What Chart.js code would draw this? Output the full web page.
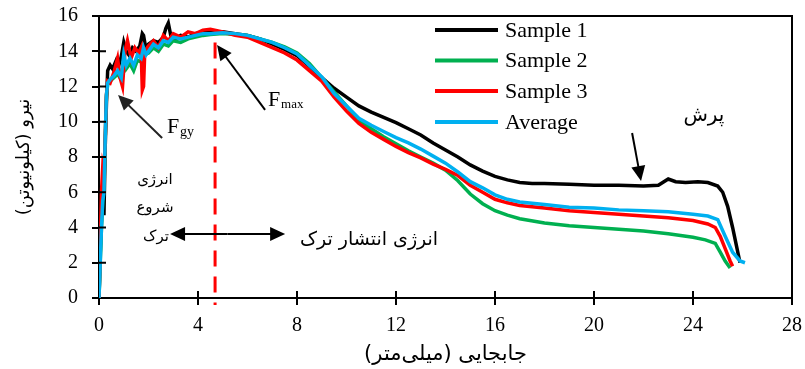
<!DOCTYPE html>
<html><head><meta charset="utf-8">
<script src="https://cdn.jsdelivr.net/npm/chart.js@4.4.1/dist/chart.umd.min.js"></script>
<style>html,body{margin:0;padding:0;background:#fff}#wrap{width:805px;height:369px;position:relative}</style>
</head><body><div id="wrap"><canvas id="c" dir="rtl"></canvas></div>
<script>
// ---- data (displacement mm, force kN) ----
const seriesNames = ['Sample 1','Sample 2','Sample 3','Average'];
const sample1X = [0,0.05,0.1,0.15,0.2,0.25,0.3,0.35,0.45,0.55,0.7,0.8,0.9,1.0,1.1,1.2,1.35,1.5,1.65,1.75,1.8,1.9,2.0,2.2,2.4,2.6,2.7,2.8,2.9,3.1,3.3,3.6,3.9,4.2,4.5,5.0,5.5,6.0,6.5,7.0,7.5,8.0,8.5,9.0,9.5,10.0,10.5,11.0,11.5,12.0,12.5,13.0,13.5,14.0,14.5,15.0,15.5,16.0,16.5,17.0,17.5,18,19,20,21,22,22.6,23.0,23.3,23.7,24.2,24.6,25.0,25.2,25.4,25.6,25.75,25.9];
const sample1Y = [0,2.5,4.5,6.5,4.7,8.5,11,12.9,13.2,13.0,13.5,13.2,13.7,14.5,14.0,13.8,14.2,14.0,14.3,15.0,14.9,14.1,14.4,14.6,14.5,14.8,15.3,15.6,14.9,14.7,14.9,14.8,15.0,15.1,15.1,15.1,15.0,14.9,14.7,14.4,14.1,13.75,13.15,12.5,11.9,11.4,10.9,10.55,10.25,9.95,9.6,9.25,8.8,8.4,8.0,7.55,7.2,6.9,6.7,6.55,6.5,6.5,6.45,6.4,6.4,6.35,6.4,6.75,6.6,6.55,6.6,6.55,6.35,6.0,5.2,4.0,3.0,2.0];
const sample2X = [0,0.05,0.1,0.15,0.2,0.25,0.3,0.35,0.45,0.6,0.75,0.9,1.0,1.1,1.25,1.4,1.55,1.7,1.85,2.0,2.2,2.4,2.6,2.8,3.0,3.3,3.6,3.9,4.2,4.5,5.0,5.5,6.0,6.5,7.0,7.5,8.0,8.5,9.0,9.5,10,10.5,11,11.5,12,12.5,13,13.5,14,14.5,15,15.5,16,16.5,17,18,19,20,21,22,23,23.5,24,24.5,24.9,25.1,25.3,25.5];
const sample2Y = [0,2,4,5.5,6.2,9,11.5,12.1,12.3,12.5,12.7,12.4,13.6,13.0,13.3,12.9,13.5,13.4,13.8,13.9,14.2,14.0,14.4,14.3,14.6,14.5,14.7,14.8,14.9,14.95,15.0,14.95,14.9,14.7,14.5,14.25,13.9,13.3,12.5,11.7,10.9,10.1,9.6,9.15,8.75,8.35,8.0,7.65,7.25,6.65,5.9,5.35,4.95,4.7,4.5,4.25,4.1,4.0,3.9,3.8,3.65,3.55,3.45,3.3,3.1,2.6,2.1,1.7];
const sample3X = [0,0.05,0.1,0.15,0.2,0.25,0.3,0.35,0.45,0.6,0.75,0.85,0.95,1.05,1.15,1.3,1.45,1.6,1.7,1.75,1.8,1.85,2.0,2.2,2.4,2.6,2.8,3.0,3.3,3.6,3.9,4.2,4.5,5.0,5.5,6.0,6.5,7.0,7.5,8.0,8.5,9.0,9.5,10,10.5,11,11.5,12,12.5,13,13.5,14,14.5,15,15.5,16,16.5,17,18,19,20,21,22,23,24,24.6,24.9,25.1,25.3,25.5,25.6];
const sample3Y = [0,3,6,7.4,7.0,9,11.5,12.3,12.2,12.8,13.6,12.5,12.0,14.0,14.6,13.6,14.2,13.9,14.2,11.8,12.0,14.0,14.3,14.6,14.2,14.9,14.6,15.0,14.8,15.1,15.0,15.2,15.25,15.1,14.9,14.8,14.5,14.2,13.9,13.5,12.9,12.3,11.4,10.6,9.9,9.4,9.0,8.6,8.25,7.95,7.6,7.3,6.95,6.4,6.0,5.6,5.4,5.25,5.1,4.95,4.85,4.75,4.65,4.55,4.4,4.2,4.0,3.5,2.8,2.1,1.8];
const averageX = [0,0.05,0.1,0.15,0.2,0.25,0.3,0.35,0.45,0.6,0.75,0.9,1.0,1.1,1.25,1.4,1.55,1.7,1.8,1.9,2.0,2.2,2.4,2.6,2.8,3.0,3.3,3.6,3.9,4.2,4.5,5.0,5.5,6.0,6.5,7.0,7.5,8.0,8.5,9.0,9.5,10,10.5,11,11.5,12,12.5,13,13.5,14,14.5,15,15.5,16,16.5,17,18,19,20,21,22,23,24,24.6,25.0,25.3,25.6,25.9,26.1];
const averageY = [0,2,4,5.5,6.0,9,11.5,12.2,12.4,12.6,12.9,12.5,13.8,13.2,13.6,13.2,13.8,13.6,14.2,13.8,14.0,14.4,14.2,14.6,14.5,14.8,14.7,14.8,14.9,15.0,15.0,15.05,15.0,14.9,14.7,14.5,14.2,13.85,13.2,12.55,11.6,10.9,10.2,9.8,9.45,9.1,8.8,8.45,8.05,7.65,7.15,6.6,6.25,5.85,5.6,5.45,5.3,5.15,5.1,5.0,4.95,4.9,4.75,4.65,4.45,3.5,2.6,2.1,2.0];
const xTicks = [0,4,8,12,16,20,24,28];
const yTicks = [0,2,4,6,8,10,12,14,16];
const fmaxX = 4.69; // displacement at maximum force

const colors = ['#000000','#00B050','#FF0000','#00B0F0'];
const pts = (xs, ys) => xs.map((v, i) => ({x: v, y: ys[i]}));
const serif = "'Liberation Serif', 'Times New Roman', serif";
const arab = "'DejaVu Sans', sans-serif";

function arrow(ctx, x1, y1, x2, y2, col, lw, L, W) {
  const ang = Math.atan2(y2 - y1, x2 - x1);
  ctx.strokeStyle = col; ctx.fillStyle = col; ctx.lineWidth = lw;
  ctx.beginPath(); ctx.moveTo(x1, y1);
  ctx.lineTo(x2 - Math.cos(ang) * L * 0.8, y2 - Math.sin(ang) * L * 0.8); ctx.stroke();
  ctx.beginPath(); ctx.moveTo(x2, y2);
  ctx.lineTo(x2 - L * Math.cos(ang) + W * Math.sin(ang), y2 - L * Math.sin(ang) - W * Math.cos(ang));
  ctx.lineTo(x2 - L * Math.cos(ang) - W * Math.sin(ang), y2 - L * Math.sin(ang) + W * Math.cos(ang));
  ctx.closePath(); ctx.fill();
}

const annot = {
  id: 'annot',
  beforeDatasetsDraw(chart) {
    const {ctx, scales: {x, y}} = chart;
    ctx.save();
    ctx.strokeStyle = '#FF0000'; ctx.lineWidth = 3; ctx.setLineDash([16, 10]);
    ctx.beginPath(); ctx.moveTo(x.getPixelForValue(fmaxX), y.getPixelForValue(14.5));
    ctx.lineTo(x.getPixelForValue(fmaxX), y.getPixelForValue(-0.4)); ctx.stroke();
    ctx.restore();
  },
  afterDraw(chart) {
    const {ctx, chartArea: a, scales: {x, y}} = chart;
    const X = v => x.getPixelForValue(v), Y = v => y.getPixelForValue(v);
    ctx.save();
    // frame
    ctx.strokeStyle = '#000'; ctx.lineWidth = 2; ctx.setLineDash([]);
    ctx.beginPath(); ctx.moveTo(a.left, a.top); ctx.lineTo(a.right, a.top); ctx.lineTo(a.right, a.bottom); ctx.stroke();
    // inner tick marks
    ctx.beginPath();
    xTicks.forEach(t => { if (t > 0 && t < 28) { ctx.moveTo(X(t), a.bottom); ctx.lineTo(X(t), a.bottom - 7); } });
    yTicks.forEach(t => { if (t > 0) { ctx.moveTo(a.left, Y(t)); ctx.lineTo(a.left + 7, Y(t)); } });
    ctx.stroke();
    // legend
    const rows = [14, 44.5, 75, 106];
    ctx.direction = 'ltr';
    seriesNames.forEach((n, i) => {
      ctx.strokeStyle = colors[i]; ctx.lineWidth = 4;
      ctx.beginPath(); ctx.moveTo(a.right - 357, a.top + rows[i]); ctx.lineTo(a.right - 294, a.top + rows[i]); ctx.stroke();
      ctx.fillStyle = '#000'; ctx.font = '22px ' + serif; ctx.textAlign = 'left'; ctx.textBaseline = 'middle';
      ctx.fillText(n, a.right - 287, a.top + rows[i] + 1);
    });
    // arrows
    arrow(ctx, X(2.55), Y(9.08), X(0.77), Y(11.52), '#222', 2, 15, 7);
    arrow(ctx, X(6.71), Y(10.67), X(4.77), Y(14.35), '#000', 2, 15, 7);
    arrow(ctx, X(21.54), Y(9.36), X(21.9), Y(6.64), '#000', 2, 15, 7);
    const ym = Y(3.63), xl = X(2.87), xr = X(7.52), xmid = (xl + xr) / 2;
    arrow(ctx, xmid, ym, xl, ym, '#000', 2, 15, 7);
    arrow(ctx, xmid, ym, xr, ym, '#000', 2, 15, 7);
    // F labels
    ctx.fillStyle = '#000'; ctx.textAlign = 'left'; ctx.textBaseline = 'alphabetic';
    ctx.font = '22px ' + serif; ctx.fillText('F', X(2.75), Y(9.36));
    ctx.font = '14px ' + serif; ctx.fillText('gy', X(2.75) + 13, Y(9.36) + 3);
    ctx.font = '22px ' + serif; ctx.fillText('F', X(6.83), Y(10.9));
    ctx.font = '13px ' + serif; ctx.fillText('max', X(6.83) + 13, Y(10.9) + 2);
    // Persian labels
    ctx.direction = 'rtl'; ctx.textAlign = 'center'; ctx.textBaseline = 'middle';
    ctx.font = '15px ' + arab;
    ctx.fillText('انرژی', X(2.26), Y(6.7));
    ctx.fillText('شروع', X(2.26), Y(5.1));
    ctx.fillText('ترک', X(2.3), Y(3.46));
    ctx.font = '19px ' + arab; ctx.textAlign = 'left';
    ctx.fillText('انرژی انتشار ترک', X(8.12), Y(3.3));
    ctx.font = '20px ' + arab; ctx.textAlign = 'center';
    ctx.fillText('پرش', X(24.44), Y(10.33));
    ctx.restore();
  }
};

const ds = [
  {label: seriesNames[0], data: pts(sample1X, sample1Y), borderColor: colors[0], order: 3},
  {label: seriesNames[1], data: pts(sample2X, sample2Y), borderColor: colors[1], order: 2},
  {label: seriesNames[2], data: pts(sample3X, sample3Y), borderColor: colors[2], order: 1},
  {label: seriesNames[3], data: pts(averageX, averageY), borderColor: colors[3], order: 0}
].map(d => Object.assign(d, {borderWidth: 3.5, pointRadius: 0, tension: 0, fill: false}));

new Chart(document.getElementById('c'), {
  type: 'line',
  data: {datasets: ds},
  options: {
    responsive: true, maintainAspectRatio: false, animation: false,
    layout: {padding: {top: 16, right: 13, left: 0, bottom: 0}},
    plugins: {legend: {display: false}, tooltip: {enabled: false}},
    scales: {
      x: {
        type: 'linear', min: 0, max: 28,
        afterBuildTicks: s => { s.ticks = xTicks.map(v => ({value: v})); },
        afterFit: s => { s.height = 71; s.paddingLeft = 0; s.paddingRight = 0; },
        ticks: {color: '#000', font: {family: serif, size: 20}, padding: 9, maxRotation: 0},
        grid: {drawOnChartArea: false, color: '#000', lineWidth: 2, tickLength: 7},
        border: {color: '#000', width: 2},
        title: {display: true, text: 'جابجایی (میلی‌متر)', color: '#000', font: {family: arab, size: 21}, padding: {top: 0, bottom: 2}}
      },
      y: {
        type: 'linear', min: 0, max: 16,
        afterBuildTicks: s => { s.ticks = yTicks.map(v => ({value: v})); },
        afterFit: s => { s.width = 99; s.paddingTop = 0; s.paddingBottom = 0; },
        ticks: {color: '#000', font: {family: serif, size: 20}, padding: 14},
        grid: {drawOnChartArea: false, color: '#000', lineWidth: 2, tickLength: 7},
        border: {color: '#000', width: 2},
        title: {display: true, text: 'نیرو (کیلونیوتن)', color: '#000', font: {family: arab, size: 18}, padding: {top: 14, bottom: 0}}
      }
    }
  },
  plugins: [annot]
});
</script>
</body></html>
